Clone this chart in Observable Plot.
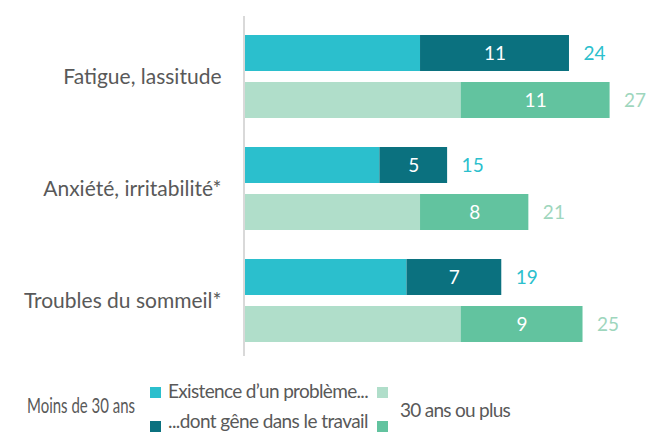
<!DOCTYPE html>
<html>
<head>
<meta charset="utf-8">
<script src="https://cdn.jsdelivr.net/npm/d3@7"></script>
<script src="https://cdn.jsdelivr.net/npm/@observablehq/plot@0.6"></script>
<style>
  html, body { margin: 0; padding: 0; background: #fff; }
  #wrap { position: relative; width: 649px; height: 432px; overflow: hidden; font-family: Lato, "Open Sans", sans-serif; color: #595959; }
  .lg { position: absolute; white-space: nowrap; font-size: 19px; line-height: 1; }
  .sw { position: absolute; width: 11px; height: 11px; }
</style>
</head>
<body>
<div id="wrap"></div>
<script>
const categories = ["Fatigue, lassitude", "Anxiété, irritabilité*", "Troubles du sommeil*"];
const groups = ["Moins de 30 ans", "30 ans ou plus"];
const totalUnder30 = [24, 15, 19];
const geneUnder30 = [11, 5, 7];
const totalOver30 = [27, 21, 25];
const geneOver30 = [11, 8, 9];
const legendItems = ["Existence d’un problème...", "...dont gêne dans le travail"];

const colors = {
  "Moins de 30 ans": {base: "#2BBFCD", gene: "#0B717F", label: "#2BBFCD"},
  "30 ans ou plus": {base: "#B0DECA", gene: "#62C39F", label: "#9ED6BD"}
};

const rows = [];
categories.forEach((c, i) => {
  rows.push({cat: c, grp: groups[0], total: totalUnder30[i], gene: geneUnder30[i]});
  rows.push({cat: c, grp: groups[1], total: totalOver30[i], gene: geneOver30[i]});
});
const segs = [];
rows.forEach(r => {
  segs.push({cat: r.cat, grp: r.grp, x1: 0, x2: r.total - r.gene, color: colors[r.grp].base});
  segs.push({cat: r.cat, grp: r.grp, x1: r.total - r.gene, x2: r.total, color: colors[r.grp].gene, mid: r.total - r.gene / 2, v: r.gene});
});
const geneSegs = segs.filter(s => s.v !== undefined);

const font = "Lato, 'Open Sans', sans-serif";
const plot = Plot.plot({
  width: 649,
  height: 370,
  marginTop: 33,
  marginBottom: 27,
  marginLeft: 244,
  marginRight: 0,
  style: {fontFamily: font, fontSize: "17px", color: "#595959", background: "white"},
  x: {domain: [0, 27], range: [244, 609.6], axis: null},
  fy: {domain: categories, paddingInner: 0.244, paddingOuter: 0, label: null, axis: null},
  y: {domain: groups, paddingInner: 0.229, paddingOuter: 0, axis: null},
  marks: [
    Plot.barX(segs, {fy: "cat", y: "grp", x1: "x1", x2: "x2", fill: d => d.color}),
    Plot.text(geneSegs, {fy: "cat", y: "grp", x: "mid", text: d => String(d.v), fill: "white", fontSize: 19}),
    Plot.text(rows, {fy: "cat", y: "grp", x: "total", text: d => String(d.total), fill: d => colors[d.grp].label, textAnchor: "start", dx: 14, fontSize: 19}),
    Plot.text(categories.map(c => ({cat: c})), {fy: "cat", frameAnchor: "left", text: "cat", textAnchor: "end", dx: -23, fill: "#595959", fontSize: 21})
  ]
});

const wrap = document.getElementById("wrap");
wrap.appendChild(plot);

// vertical axis line at x = 0
const svg = d3.select(plot);
const x0 = plot.scale("x").apply(0);
svg.append("line")
  .attr("x1", x0).attr("x2", x0)
  .attr("y1", 16).attr("y2", 356)
  .attr("stroke", "#D9D9D9").attr("stroke-width", 2);
plot.style.position = "absolute";
plot.style.left = "0px";
plot.style.top = "0px";

// legend
function addText(t, left, top, targetWidth, extra) {
  const d = document.createElement("div");
  d.className = "lg";
  d.textContent = t;
  d.style.left = left + "px";
  d.style.top = top + "px";
  if (extra) Object.assign(d.style, extra);
  wrap.appendChild(d);
  if (targetWidth) {
    const w = d.getBoundingClientRect().width;
    const n = t.length;
    d.style.letterSpacing = ((targetWidth - w) / n) + "px";
  }
  return d;
}
function addSw(color, left, top) {
  const d = document.createElement("div");
  d.className = "sw";
  d.style.background = color;
  d.style.left = left + "px";
  d.style.top = top + "px";
  wrap.appendChild(d);
}
const m = addText(groups[0], 27, 394, null, {fontSize: "21px", transformOrigin: "left top"});
m.style.transform = "scaleX(" + (108 / m.getBoundingClientRect().width) + ")";
addSw(colors[groups[0]].base, 150, 387);
addSw(colors[groups[0]].gene, 150, 421);
addText(legendItems[0], 168, 381, 200);
addText(legendItems[1], 168, 411, 200);
addSw(colors[groups[1]].base, 377, 387);
addSw(colors[groups[1]].gene, 377, 421);
addText(groups[1], 400, 400, 110);
</script>
</body>
</html>
